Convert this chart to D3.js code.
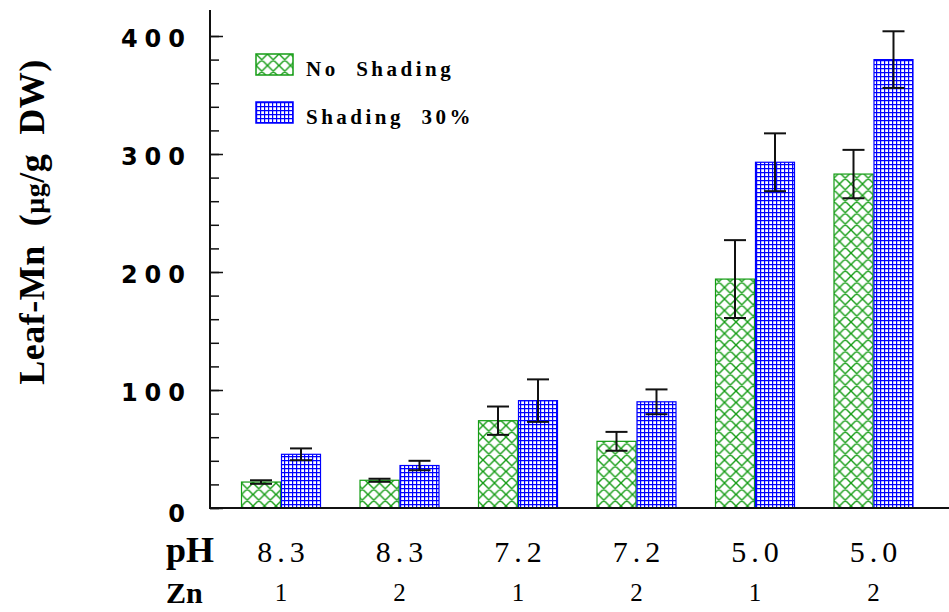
<!DOCTYPE html>
<html>
<head>
<meta charset="utf-8">
<script src="https://cdn.jsdelivr.net/npm/d3@7"></script>
<style>
  body { margin: 0; background: #fff; }
</style>
</head>
<body>
<div id="chart"></div>
<script>
// Leaf Mn by pH / Zn treatment, shaded vs not shaded

// data
var phLabels = ["8.3", "8.3", "7.2", "7.2", "5.0", "5.0"];
var znLabels = ["1", "2", "1", "2", "1", "2"];
var noShading = [22, 23.5, 74, 56.5, 194, 283];
var noShadingErr = [1.5, 1.3, 12, 8, 33, 20.5];
var shading30 = [45.5, 36, 91, 90, 293, 380];
var shading30Err = [5, 4, 18, 10.5, 24.5, 24];
var majorTicks = [0, 100, 200, 300, 400];
var minorTicks = d3.range(0, 401, 20);

var width = 949;
var height = 612;
var axisX = 210;
var axisTop = 10;

var green = "#149c14";
var blue = "#0000ff";

var svg = d3.select("#chart")
            .append("svg")
            .attr("width", width)
            .attr("height", height);

// hatch patterns
var defs = svg.append("defs");

var cross = defs.append("pattern")
    .attr("id", "cross")
    .attr("patternUnits", "userSpaceOnUse")
    .attr("width", 11.5)
    .attr("height", 11.5);
cross.append("rect").attr("width", 11.5).attr("height", 11.5).attr("fill", "#fff");
cross.append("path")
    .attr("d", "M0,0L11.5,11.5M0,11.5L11.5,0M-1,1L1,-1M10.5,12.5L12.5,10.5M-1,10.5L1,12.5M10.5,-1L12.5,1")
    .attr("stroke", green)
    .attr("stroke-width", 1.4);

var grid = defs.append("pattern")
    .attr("id", "grid")
    .attr("patternUnits", "userSpaceOnUse")
    .attr("width", 4)
    .attr("height", 4);
grid.append("rect").attr("width", 4).attr("height", 4).attr("fill", "#fff");
grid.append("path")
    .attr("d", "M0.6,0V4M0,0.6H4")
    .attr("stroke", blue)
    .attr("stroke-width", 1.2);

// scales
var x = d3.scaleBand()
          .domain(d3.range(phLabels.length))
          .range([202.5, 952])
          .paddingInner(0.325)
          .paddingOuter(0.325);

var xSub = d3.scaleBand()
             .domain(["no", "shade"])
             .range([0, x.bandwidth()]);

var y = d3.scaleLinear()
          .domain([0, 400])
          .range([508, 36]);

// bars
var series = [
    { key: "no", values: noShading, err: noShadingErr, fill: "url(#cross)", stroke: green },
    { key: "shade", values: shading30, err: shading30Err, fill: "url(#grid)", stroke: blue }
];

series.forEach(function(s) {
    var g = svg.append("g");

    g.selectAll("rect")
     .data(s.values)
     .enter()
     .append("rect")
     .attr("x", function(d, i) { return x(i) + xSub(s.key) + 0.5; })
     .attr("y", function(d) { return y(d); })
     .attr("width", xSub.bandwidth() - 1)
     .attr("height", function(d) { return y(0) - y(d); })
     .attr("fill", s.fill)
     .attr("stroke", s.stroke)
     .attr("stroke-width", 1.2);
});

// error bars on top
series.forEach(function(s) {
    var g = svg.append("g")
               .attr("stroke", "#111")
               .attr("stroke-width", 2);

    s.values.forEach(function(d, i) {
        var cx = x(i) + xSub(s.key) + xSub.bandwidth() / 2;
        var hi = y(d + s.err[i]);
        var lo = y(d - s.err[i]);
        g.append("line").attr("x1", cx).attr("x2", cx).attr("y1", hi).attr("y2", lo);
        g.append("line").attr("x1", cx - 11).attr("x2", cx + 11).attr("y1", hi).attr("y2", hi);
        g.append("line").attr("x1", cx - 11).attr("x2", cx + 11).attr("y1", lo).attr("y2", lo);
    });
});

// y axis: minor ticks, then major ticks with labels
svg.append("g")
   .attr("transform", "translate(" + axisX + ",0)")
   .call(d3.axisRight(y).tickValues(minorTicks).tickSize(9).tickFormat(""))
   .call(function(g) { g.select(".domain").remove(); })
   .selectAll("line").attr("stroke", "#111").attr("stroke-width", 1.5);

var yAxis = svg.append("g")
   .attr("transform", "translate(" + axisX + ",0)")
   .call(d3.axisLeft(y).tickValues(majorTicks).tickSize(-13).tickPadding(18).tickFormat(d3.format("d")));
yAxis.select(".domain").remove();
yAxis.selectAll("line").attr("stroke", "#111").attr("stroke-width", 1.5);
yAxis.selectAll("text")
     .attr("font-family", "DejaVu Sans")
     .attr("font-weight", "bold")
     .attr("font-size", 24)
     .attr("letter-spacing", 7)
     .attr("fill", "#000")
     .attr("dy", function(d) { return d === 0 ? "0.55em" : "0.42em"; });

// axis lines
svg.append("line")
   .attr("x1", axisX).attr("x2", axisX)
   .attr("y1", axisTop).attr("y2", y(0))
   .attr("stroke", "#111").attr("stroke-width", 2);
svg.append("line")
   .attr("x1", axisX - 1).attr("x2", width)
   .attr("y1", y(0)).attr("y2", y(0))
   .attr("stroke", "#111").attr("stroke-width", 2.2);

// category labels under the axis
var labelFont = "Liberation Serif";

svg.append("text")
   .attr("x", 166).attr("y", 562)
   .attr("font-family", labelFont).attr("font-size", 36)
   .attr("font-weight", "bold")
   .text("pH");

svg.append("g")
   .selectAll("text")
   .data(phLabels)
   .enter()
   .append("text")
   .attr("x", function(d, i) { return x(i) + x.bandwidth() / 2 + 2.5; })
   .attr("y", 562)
   .attr("text-anchor", "middle")
   .attr("font-family", labelFont)
   .attr("font-size", 30)
   .attr("letter-spacing", 5)
   .text(function(d) { return d; });

svg.append("text")
   .attr("x", 166).attr("y", 603)
   .attr("font-family", labelFont).attr("font-size", 30)
   .attr("font-weight", "bold")
   .text("Zn");

svg.append("g")
   .selectAll("text")
   .data(znLabels)
   .enter()
   .append("text")
   .attr("x", function(d, i) { return x(i) + x.bandwidth() / 2; })
   .attr("y", 601)
   .attr("text-anchor", "middle")
   .attr("font-family", labelFont)
   .attr("font-size", 25)
   .text(function(d) { return d; });

// y title
var title = svg.append("text")
   .attr("transform", "translate(44,222) rotate(-90)")
   .attr("text-anchor", "middle")
   .attr("font-family", labelFont)
   .attr("font-weight", "bold")
   .attr("font-size", 36)
   .attr("letter-spacing", 0.5)
   .style("white-space", "pre");
title.append("tspan").text("Leaf-Mn  (");
title.append("tspan").attr("font-size", 28).text("μg");
title.append("tspan").text("/g  DW)");

// legend
var legend = [
    { label: "No  Shading", fill: "url(#cross)", stroke: green },
    { label: "Shading  30%", fill: "url(#grid)", stroke: blue }
];

var lg = svg.append("g")
            .selectAll("g")
            .data(legend)
            .enter()
            .append("g")
            .attr("transform", function(d, i) { return "translate(256," + (54 + i * 48) + ")"; });

lg.append("rect")
  .attr("width", 37).attr("height", 21)
  .attr("fill", function(d) { return d.fill; })
  .attr("stroke", function(d) { return d.stroke; })
  .attr("stroke-width", 1.5);

lg.append("text")
  .attr("x", 50).attr("y", 22)
  .attr("font-family", labelFont)
  .attr("font-weight", "bold")
  .attr("font-size", 21)
  .attr("letter-spacing", 3.5)
  .style("white-space", "pre")
  .text(function(d) { return d.label; });
</script>
</body>
</html>
